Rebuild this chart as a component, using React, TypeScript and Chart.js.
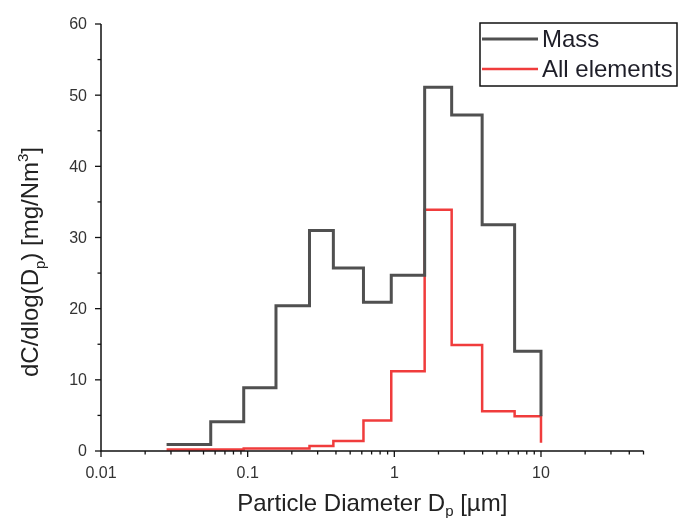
import React, { useEffect, useRef } from "react";
import { Chart, registerables } from "chart.js";
Chart.register(...registerables);

// Bin lower edges (last entry = upper edge of last bin), µm
const binEdges = [0.028, 0.056, 0.094, 0.156, 0.264, 0.384, 0.616, 0.953, 1.61, 2.46, 3.97, 6.61, 10];
// dC/dlog(Dp) per bin (last value = end point at 10 µm)
const massValues = [0.9, 4.1, 8.9, 20.4, 31.0, 25.7, 20.9, 24.7, 51.1, 47.2, 31.8, 14.0, 4.9];
const elementValues = [0.2, 0.2, 0.35, 0.35, 0.7, 1.4, 4.3, 11.2, 33.9, 14.9, 5.6, 4.9, 1.15];
const seriesLabels = ["Mass", "All elements"];
const seriesColors = ["#505050", "#f03c3c"];
const seriesWidths = [3, 2.5];
const xTickValues = [0.01, 0.1, 1, 10];
const xTickLabels = ["0.01", "0.1", "1", "10"];
const yTickValues = [0, 10, 20, 30, 40, 50, 60];
const yMinorValues = [5, 15, 25, 35, 45, 55];

const FONT = "'Liberation Sans', Arial, sans-serif";

type Seg = { t: string; mode?: "sub" | "sup" };

function segWidth(ctx: CanvasRenderingContext2D, segs: Seg[], size: number) {
  let w = 0;
  for (const s of segs) {
    ctx.font = `${s.mode ? Math.round(size * 0.62) : size}px ${FONT}`;
    w += ctx.measureText(s.t).width;
  }
  return w;
}

function drawSegs(ctx: CanvasRenderingContext2D, segs: Seg[], size: number, x: number, y: number, subShift = 0.3) {
  let cx = x;
  for (const s of segs) {
    const fs = s.mode ? Math.round(size * 0.62) : size;
    ctx.font = `${fs}px ${FONT}`;
    const dy = s.mode === "sub" ? size * subShift : s.mode === "sup" ? -size * 0.42 : 0;
    ctx.fillText(s.t, cx, y + dy);
    cx += ctx.measureText(s.t).width;
  }
}

const axesPlugin = {
  id: "originAxes",
  afterDraw(chart: any) {
    const ctx: CanvasRenderingContext2D = chart.ctx;
    const xs = chart.scales.x;
    const ys = chart.scales.y;
    const a = chart.chartArea;
    ctx.save();
    ctx.strokeStyle = "#111";
    ctx.lineWidth = 1.5;
    // axis lines
    ctx.beginPath();
    ctx.moveTo(a.left, a.top);
    ctx.lineTo(a.left, a.bottom);
    ctx.lineTo(a.right, a.bottom);
    ctx.stroke();
    // y ticks
    ctx.lineWidth = 1.3;
    for (const v of yTickValues) {
      const py = ys.getPixelForValue(v);
      ctx.beginPath();
      ctx.moveTo(a.left - 6, py);
      ctx.lineTo(a.left, py);
      ctx.stroke();
    }
    for (const v of yMinorValues) {
      const py = ys.getPixelForValue(v);
      ctx.beginPath();
      ctx.moveTo(a.left - 3.5, py);
      ctx.lineTo(a.left, py);
      ctx.stroke();
    }
    // x ticks
    for (const d of xTickValues) {
      const px = xs.getPixelForValue(d);
      ctx.beginPath();
      ctx.moveTo(px, a.bottom);
      ctx.lineTo(px, a.bottom + 6);
      ctx.stroke();
      for (let k = 2; k <= 9; k++) {
        const v = d * k;
        if (v > xs.max) break;
        const mx = xs.getPixelForValue(v);
        ctx.beginPath();
        ctx.moveTo(mx, a.bottom);
        ctx.lineTo(mx, a.bottom + 3.5);
        ctx.stroke();
      }
    }
    // tick labels
    ctx.fillStyle = "#333";
    ctx.font = `16px ${FONT}`;
    ctx.textAlign = "right";
    ctx.textBaseline = "middle";
    for (const v of yTickValues) {
      ctx.fillText(String(v), a.left - 14, ys.getPixelForValue(v) + 1);
    }
    ctx.textAlign = "center";
    ctx.textBaseline = "alphabetic";
    xTickValues.forEach((v, i) => {
      ctx.fillText(xTickLabels[i], xs.getPixelForValue(v), a.bottom + 27);
    });
    // axis titles
    ctx.fillStyle = "#222";
    ctx.textAlign = "left";
    const xt: Seg[] = [{ t: "Particle Diameter D" }, { t: "p", mode: "sub" }, { t: " [\u00b5m]" }];
    const xw = segWidth(ctx, xt, 24);
    drawSegs(ctx, xt, 24, (a.left + a.right) / 2 - xw / 2, 511, 0.2);
    const yt: Seg[] = [
      { t: "dC/dlog(D" },
      { t: "p", mode: "sub" },
      { t: ") [mg/Nm" },
      { t: "3", mode: "sup" },
      { t: "]" },
    ];
    const yw = segWidth(ctx, yt, 24);
    ctx.save();
    ctx.translate(38, 262);
    ctx.rotate(-Math.PI / 2);
    drawSegs(ctx, yt, 24, -yw / 2, 0);
    ctx.restore();
    // legend
    ctx.strokeStyle = "#111";
    ctx.lineWidth = 1.5;
    ctx.strokeRect(480, 23, 197, 63);
    const rows = [39, 69];
    chart.data.datasets.forEach((ds: any, i: number) => {
      ctx.strokeStyle = ds.borderColor;
      ctx.lineWidth = ds.borderWidth;
      ctx.beginPath();
      ctx.moveTo(482, rows[i]);
      ctx.lineTo(538, rows[i]);
      ctx.stroke();
      ctx.fillStyle = "#1e1e28";
      ctx.font = `24px ${FONT}`;
      ctx.textAlign = "left";
      ctx.textBaseline = "alphabetic";
      ctx.fillText(ds.label, 542, rows[i] + 7.5);
    });
    ctx.restore();
  },
};

export default function App() {
  const ref = useRef<HTMLCanvasElement>(null);
  useEffect(() => {
    if (!ref.current) return;
    const mk = (vals: number[]) => binEdges.map((x, i) => ({ x, y: vals[i] }));
    const chart = new Chart(ref.current, {
      type: "line",
      data: {
        datasets: [
          {
            label: seriesLabels[0],
            data: mk(massValues),
            borderColor: seriesColors[0],
            borderWidth: seriesWidths[0],
            stepped: "before",
            pointRadius: 0,
            fill: false,
            clip: false as any,
            borderJoinStyle: "miter",
          },
          {
            label: seriesLabels[1],
            data: mk(elementValues),
            borderColor: seriesColors[1],
            borderWidth: seriesWidths[1],
            stepped: "before",
            pointRadius: 0,
            fill: false,
            clip: false as any,
            borderJoinStyle: "miter",
          },
        ],
      },
      options: {
        animation: false,
        responsive: false,
        layout: { padding: { left: 101, right: 34.5, top: 24, bottom: 67 } },
        plugins: { legend: { display: false }, tooltip: { enabled: false } },
        scales: {
          x: { type: "logarithmic", min: 0.01, max: 50, display: false },
          y: { type: "linear", min: 0, max: 60, display: false },
        },
      },
      plugins: [axesPlugin],
    });
    return () => chart.destroy();
  }, []);
  return (
    <div style={{ position: "fixed", left: 0, top: 0, width: 678, height: 518, background: "#fff" }}>
      <canvas ref={ref} width={678} height={518} style={{ width: 678, height: 518 }} />
    </div>
  );
}
